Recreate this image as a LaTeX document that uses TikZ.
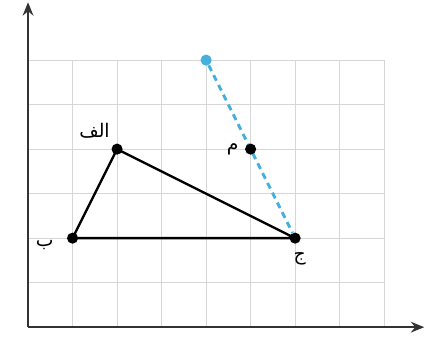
\documentclass[tikz,border=0pt]{standalone}
\usepackage{fontspec}
\newfontfamily\arabicfont[Script=Arabic]{DejaVu Sans}
\TeXXeTstate=1
\usetikzlibrary{arrows.meta,positioning}
\definecolor{gridline}{HTML}{D6D6D6}
\definecolor{segblue}{HTML}{45B0DC}

\begin{document}
\begin{tikzpicture}[font=\arabicfont\large,
  pt/.style={circle,fill=black,inner sep=0pt,minimum size=2.5mm},
  lbl/.style={inner sep=1pt},
  ax/.style={-{Stealth[length=3mm,width=2.4mm]},line width=1.4pt,black!80}]
  \useasboundingbox (-0.63,-0.27) rectangle (8.94,7.35);
  \draw[gridline,line width=0.7pt] (0,0) grid (8,6);
  \coordinate (o) at (0,0);
  \coordinate (xe) at (8.9,0);
  \coordinate (ye) at (0,7.3);
  \draw[ax] (o) -- (xe);
  \draw[ax] (o) -- (ye);
  \node[pt] (a) at (2,4) {};
  \node[pt] (b) at (1,2) {};
  \node[pt] (c) at (6,2) {};
  \node[pt,fill=segblue] (p) at (4,6) {};
  \draw[line width=1.5pt] (a.center) -- (b.center) -- (c.center) -- cycle;
  \draw[segblue,line width=1.8pt,dash pattern=on 4pt off 3pt] (p) -- (c);
  \node[pt] (m) at (5,4) {};
  \node[lbl,above left=1mm and 0.3mm of a] (la) {\beginR الف\endR};
  \node[lbl,left=2.5mm of b,yshift=-1.5mm] (lb) {\beginR ب\endR};
  \node[lbl,below=1.5mm of c,xshift=1mm] (lc) {\beginR ج\endR};
  \node[lbl,left=1mm of m] (lm) {\beginR م\endR};
\end{tikzpicture}
\end{document}
